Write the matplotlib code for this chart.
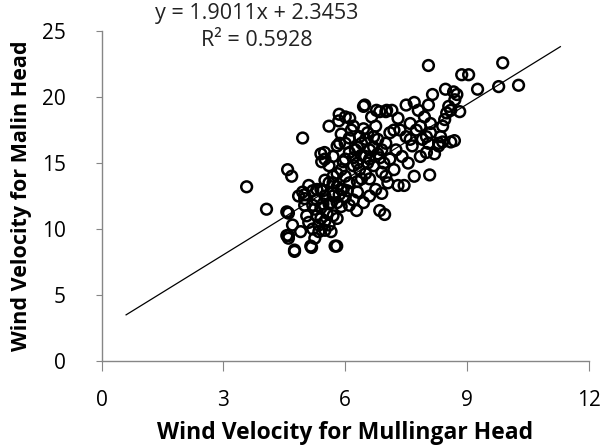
import numpy as np
import matplotlib.pyplot as plt

# Daily wind velocity pairs: Mullingar (x) vs Malin Head (y)
mullingar = [
    # lower-left group
    4.6, 4.6, 4.7, 4.6, 4.75, 4.9, 4.95, 5.0, 5.0, 5.05, 5.1, 5.15, 5.2, 5.2, 5.25,
    5.3, 5.35, 5.4, 5.4, 5.45, 5.5, 5.5, 5.55, 5.6, 5.6, 5.65, 5.7, 5.7, 5.75, 5.8,
    5.8, 5.85, 5.9, 5.9, 5.0, 5.1, 5.3, 4.85, 5.5, 5.25,
    5.3, 5.4, 5.5, 5.6, 5.7, 5.8, 5.9, 6.0, 5.45, 5.35, 5.65, 5.2,
    # middle group
    5.4, 5.5, 5.6, 5.7, 5.8, 5.9, 5.95, 6.0, 6.0, 6.1, 6.1, 6.15, 6.2, 6.25, 6.3,
    6.3, 6.35, 6.4, 6.4, 6.45, 6.5, 6.5, 6.55, 6.6, 6.6, 6.65, 6.7, 6.7, 6.75, 6.8,
    6.8, 6.85, 6.9, 6.9, 6.95, 7.0, 7.0, 7.05, 7.1, 7.1, 7.15, 7.2, 7.25, 7.3, 6.2,
    6.0, 5.85, 5.6, 6.35, 6.55, 6.05, 6.45, 6.2, 5.95, 6.1,
    6.3, 6.4, 6.5, 6.6, 6.7, 6.2, 6.45, 6.75, 6.1, 6.0, 5.8, 5.7, 6.3, 6.6, 6.9,
    7.2, 7.0, 6.85,
    # upper-right group
    7.35, 7.4, 7.45, 7.5, 7.5, 7.55, 7.6, 7.65, 7.7, 7.7, 7.75, 7.8, 7.85, 7.9, 7.95,
    8.0, 8.0, 8.05, 8.1, 8.1, 8.05, 8.15, 8.2, 8.3, 8.35, 8.4, 8.45, 8.47, 8.5, 8.55,
    8.6, 8.67, 8.7, 8.69, 8.75, 8.82, 8.3, 7.85, 7.6, 7.3, 8.4, 8.6,
    # scattered points
    3.57, 4.06, 4.58, 4.68, 4.95, 4.56, 4.56, 4.75, 5.17, 5.79, 6.28, 6.85, 6.97,
    8.08, 8.05, 9.88, 8.87, 9.04, 9.26, 9.78, 10.27, 6.48, 6.77, 7.02, 5.84, 6.11,
    5.49, 5.42, 5.86,
]
malin = [
    9.5, 9.3, 10.3, 11.2, 8.3, 9.8, 12.8, 12.3, 11.8, 11.0, 10.5, 8.7, 12.9, 10.0, 11.5,
    12.2, 9.8, 13.0, 10.8, 11.9, 12.5, 9.9, 11.2, 13.5, 10.3, 12.0, 14.0, 11.0, 8.7, 13.2,
    10.8, 12.6, 11.7, 14.5, 12.6, 13.3, 13.0, 12.5, 13.7, 9.3,
    11.0, 11.6, 10.6, 11.9, 12.5, 12.0, 13.0, 12.4, 12.9, 10.3, 9.8, 11.8,
    15.7, 15.3, 14.8, 15.5, 16.3, 17.2, 15.1, 14.0, 16.5, 15.8, 13.5, 17.5, 14.8, 16.0, 12.8,
    15.0, 17.0, 13.8, 16.5, 19.3, 15.5, 14.2, 17.3, 12.5, 16.0, 18.5, 14.8, 17.0, 13.0, 15.7,
    16.8, 18.9, 14.3, 12.7, 15.0, 16.5, 18.9, 13.5, 15.3, 17.3, 19.0, 14.5, 16.0, 13.3, 17.8,
    18.5, 18.7, 17.8, 14.5, 15.0, 12.9, 12.0, 12.2, 13.0, 11.8,
    16.2, 15.6, 16.8, 15.3, 16.2, 15.4, 17.6, 17.8, 16.9, 15.3, 14.2, 13.5, 13.6, 13.8, 16.0,
    17.5, 14.0, 15.4,
    17.5, 15.5, 13.3, 19.4, 17.0, 15.0, 18.0, 16.3, 19.6, 14.0, 17.5, 19.0, 15.5, 16.8, 18.5,
    17.0, 15.8, 19.4, 18.0, 17.3, 16.5, 20.2, 15.7, 16.5, 17.0, 17.8, 18.3, 20.6, 18.8, 19.3,
    16.6, 20.4, 19.8, 16.7, 20.2, 18.9, 16.3, 17.8, 16.8, 18.4, 16.6, 19.0,
    13.2, 11.5, 14.5, 14.0, 16.9, 11.3, 9.5, 8.4, 8.6, 8.7, 11.4, 11.4, 11.1,
    14.1, 22.4, 22.6, 21.7, 21.7, 20.6, 20.8, 20.9, 19.4, 19.0, 19.0, 18.2, 18.4,
    15.8, 15.1, 16.5,
]

# Linear trendline
slope = 1.9011
intercept = 2.3453
r_squared = 0.5928
trend_x = np.array([0.6, 11.3])

plt.rcParams['font.family'] = ['Open Sans', 'DejaVu Sans']

fig = plt.figure(figsize=(6.02, 4.46), dpi=100)
ax = fig.add_axes([0.169, 0.191, 0.809, 0.739])

ax.scatter(mullingar, malin, s=60, facecolors='none', edgecolors='black', linewidths=1.8, zorder=3)
ax.plot(trend_x, slope * trend_x + intercept, color='black', linewidth=0.9, zorder=2)

ax.set_xlim(0, 12)
ax.set_ylim(0, 25)
ax.set_xticks([0, 3, 6, 9, 12])
ax.set_yticks([0, 5, 10, 15, 20, 25])

for side in ['top', 'right']:
    ax.spines[side].set_visible(False)
for side in ['left', 'bottom']:
    ax.spines[side].set_color('#868686')
    ax.spines[side].set_linewidth(1.0)

ax.tick_params(axis='x', direction='out', length=7, color='#868686', labelsize=15, pad=14)
ax.tick_params(axis='y', direction='out', length=4, color='#868686', labelsize=15, pad=22)

ax.set_xlabel('Wind Velocity for Mullingar Head', fontsize=16.5, fontweight='bold', labelpad=7)
ax.set_ylabel('Wind Velocity for Malin Head', fontsize=15.5, fontweight='bold', labelpad=7)

fig.text(257 / 602, 1 - 14 / 446, f'y = {slope:.4f}x + {intercept:.4f}', ha='center', va='center',
         fontsize=15.5, color='#222222')
fig.text(257 / 602, 1 - 41 / 446, f'R² = {r_squared:.4f}', ha='center', va='center',
         fontsize=15.5, color='#222222')

fig.savefig('out.png', dpi=100)
